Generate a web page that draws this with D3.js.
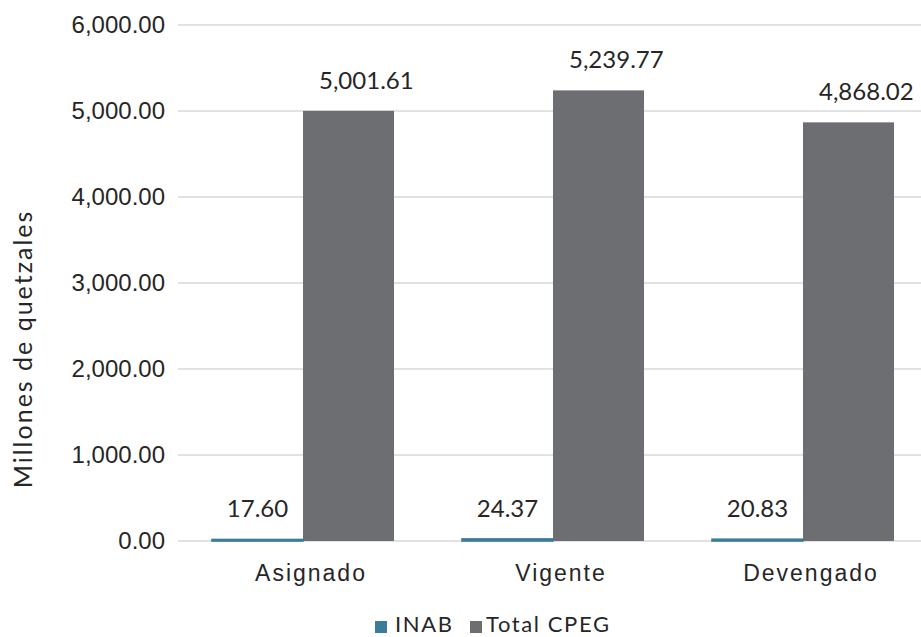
<!DOCTYPE html>
<html><head><meta charset="utf-8">
<script src="https://cdn.jsdelivr.net/npm/d3@7"></script>
<style>body{margin:0;background:#fff}svg{display:block;font-family:Lato,"Open Sans",sans-serif}</style>
</head><body><svg id="c" width="921" height="637"></svg>
<script>
const categories = ["Asignado","Vigente","Devengado"];
const seriesNames = ["INAB","Total CPEG"];
const inab = [17.60, 24.37, 20.83];
const totalCPEG = [5001.61, 5239.77, 4868.02];
const yTicks = [0,1000,2000,3000,4000,5000,6000];
const colors = ["#3b7d97","#6d6e71"];

const svg = d3.select("#c");
const pLeft=178, pRight=928, pTop=25, pBottom=541;
const x = d3.scaleBand().domain(categories).range([pLeft,pRight]).paddingInner(0.272).paddingOuter(0.136);
const y = d3.scaleLinear().domain([0,6000]).range([pBottom,pTop]);
const xs = d3.scaleBand().domain(seriesNames).range([0,x.bandwidth()]);
const fmt = d3.format(",.2f");
const txt = "#262626";

svg.append("g").selectAll("line").data(yTicks).join("line")
  .attr("x1",pLeft).attr("x2",921).attr("y1",d=>y(d)).attr("y2",d=>y(d))
  .attr("stroke","#d9d9d9").attr("stroke-width",1.3);

const yAxis = svg.append("g").attr("transform",`translate(${pLeft},0)`)
  .call(d3.axisLeft(y).tickValues(yTicks).tickFormat(fmt).tickSize(0).tickPadding(13));
yAxis.select(".domain").remove();
yAxis.selectAll("text").attr("font-size",24).attr("fill",txt);

const data = [inab,totalCPEG];
data.forEach((vals,si)=>{
  svg.append("g").selectAll("rect").data(vals).join("rect")
    .attr("x",(d,i)=>x(categories[i])+xs(seriesNames[si]))
    .attr("width",xs.bandwidth())
    .attr("y",d=>y(d)).attr("height",d=>pBottom-y(d))
    .attr("fill",colors[si])
    .attr("stroke",si===0?colors[si]:"none").attr("stroke-width",1.6);
  svg.append("g").selectAll("text").data(vals).join("text")
    .attr("x",(d,i)=>x(categories[i])+xs(seriesNames[si])+(si===1?16:xs.bandwidth()/2))
    .attr("y",d=>y(d)-22)
    .attr("text-anchor",si===1?"start":"middle").attr("font-size",24).attr("fill",txt)
    .text(d=>fmt(d));
});

svg.append("g").attr("transform",`translate(8,${pBottom})`)
  .call(d3.axisBottom(x).tickSize(0).tickPadding(24))
  .call(g=>g.select(".domain").remove())
  .selectAll("text").attr("font-size",23).attr("letter-spacing",2).attr("fill",txt);

svg.append("text").attr("transform","translate(32,349) rotate(-90)")
  .attr("text-anchor","middle").attr("font-size",25).attr("letter-spacing",2).attr("fill",txt)
  .text("Millones de quetzales");

const lg = svg.append("g");
const legendX = [375,470];
seriesNames.forEach((n,i)=>{
  lg.append("rect").attr("x",legendX[i]).attr("y",621).attr("width",12).attr("height",12).attr("fill",colors[i]);
  lg.append("text").attr("x",legendX[i]+(i===0?20:16)).attr("y",632).attr("font-size",22).attr("letter-spacing",1.6).attr("fill",txt).text(n);
});
</script></body></html>
